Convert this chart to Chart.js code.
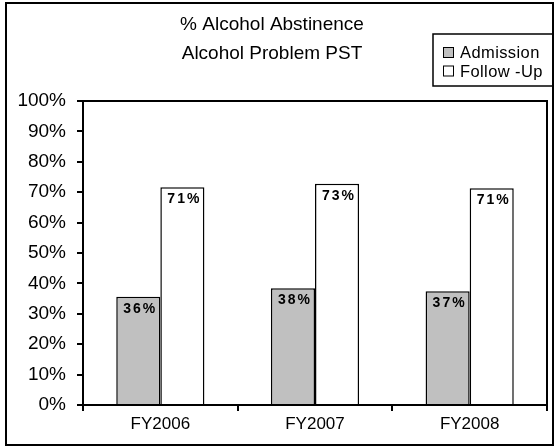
<!DOCTYPE html>
<html>
<head>
<meta charset="utf-8">
<script src="https://cdn.jsdelivr.net/npm/chart.js@4/dist/chart.umd.min.js"></script>
<style>
  html, body { margin: 0; padding: 0; background: #fff; }
  #wrap { width: 558px; height: 447px; position: relative; }
</style>
</head>
<body>
<div id="wrap"><canvas id="abstChart"></canvas></div>
<script>
// data
const years = ["FY2006", "FY2007", "FY2008"];
const admission = [35.6, 38.4, 37.4];
const followUp = [71.6, 72.8, 71.3];
const shownAdmission = ["36%", "38%", "37%"];
const shownFollowUp = ["71%", "73%", "71%"];
const titleLines = ["% Alcohol Abstinence", "Alcohol Problem PST"];
const seriesNames = ["Admission", "Follow -Up"];

const FONT = "'Liberation Sans', Arial, sans-serif";

// frame, title, legend, top/right plot border
const decorations = {
  id: "decorations",
  afterDraw(chart) {
    const ctx = chart.ctx;
    const a = chart.chartArea;
    ctx.save();
    ctx.strokeStyle = "#000";
    ctx.lineWidth = 2;
    ctx.strokeRect(6, 3, 547, 442);
    ctx.strokeRect(a.left, a.top, a.right - a.left, a.bottom - a.top);

    ctx.fillStyle = "#000";
    ctx.font = "19px " + FONT;
    ctx.textAlign = "center";
    ctx.textBaseline = "alphabetic";
    ctx.fillText(titleLines[0], 272, 30);
    ctx.fillText(titleLines[1], 272, 59);

    // legend
    ctx.lineWidth = 1.5;
    ctx.strokeRect(433, 34, 120, 52);
    const colors = ["#c0c0c0", "#ffffff"];
    ctx.textAlign = "left";
    ctx.font = "16.5px " + FONT;
    ctx.letterSpacing = "0.4px";
    seriesNames.forEach((name, i) => {
      const y = 47 + i * 18.5;
      ctx.fillStyle = colors[i];
      ctx.fillRect(443, y, 10, 10);
      ctx.strokeStyle = "#000";
      ctx.lineWidth = 1;
      ctx.strokeRect(443.5, y + 0.5, 10, 10);
      ctx.fillStyle = "#000";
      ctx.fillText(name, 460, y + 11);
    });
    ctx.restore();
  },
};

// value labels inside the top of each bar
const barLabels = {
  id: "barLabels",
  afterDatasetsDraw(chart) {
    const ctx = chart.ctx;
    ctx.save();
    ctx.font = "bold 14px " + FONT;
    ctx.letterSpacing = "2px";
    ctx.fillStyle = "#000";
    ctx.textAlign = "center";
    ctx.textBaseline = "top";
    const texts = [shownAdmission, shownFollowUp];
    chart.data.datasets.forEach((ds, di) => {
      chart.getDatasetMeta(di).data.forEach((bar, i) => {
        ctx.fillText(texts[di][i], bar.x + 2, bar.y + 5);
      });
    });
    ctx.restore();
  },
};

new Chart(document.getElementById("abstChart"), {
  type: "bar",
  data: {
    labels: years,
    datasets: [
      {
        label: seriesNames[0],
        data: admission,
        backgroundColor: "#c0c0c0",
        borderColor: "#000",
        borderWidth: 1.5,
      },
      {
        label: seriesNames[1],
        data: followUp,
        backgroundColor: "#ffffff",
        borderColor: "#000",
        borderWidth: 1.5,
      },
    ],
  },
  options: {
    responsive: true,
    maintainAspectRatio: false,
    animation: false,
    layout: { padding: { left: 5, right: 11, top: 101, bottom: 0 } },
    datasets: { bar: { categoryPercentage: 0.57, barPercentage: 1.0 } },
    plugins: {
      legend: { display: false },
      title: { display: false },
      tooltip: { enabled: false },
    },
    scales: {
      x: {
        offset: true,
        grid: {
          offset: true,
          drawOnChartArea: false,
          drawTicks: true,
          tickLength: 6,
          color: "#000",
          lineWidth: 2,
        },
        border: { display: true, color: "#000", width: 2 },
        ticks: { color: "#000", font: { family: FONT, size: 17 }, padding: 3 },
        afterFit(axis) { axis.height = 42; },
      },
      y: {
        min: 0,
        max: 100,
        ticks: {
          stepSize: 10,
          color: "#000",
          font: { family: FONT, size: 19 },
          padding: 11,
          callback: (v) => v + "%",
        },
        grid: {
          drawOnChartArea: false,
          drawTicks: true,
          tickLength: 6,
          color: "#000",
          lineWidth: 2,
        },
        border: { display: true, color: "#000", width: 2 },
        afterFit(axis) { axis.width = 78; },
      },
    },
  },
  plugins: [decorations, barLabels],
});
</script>
</body>
</html>
